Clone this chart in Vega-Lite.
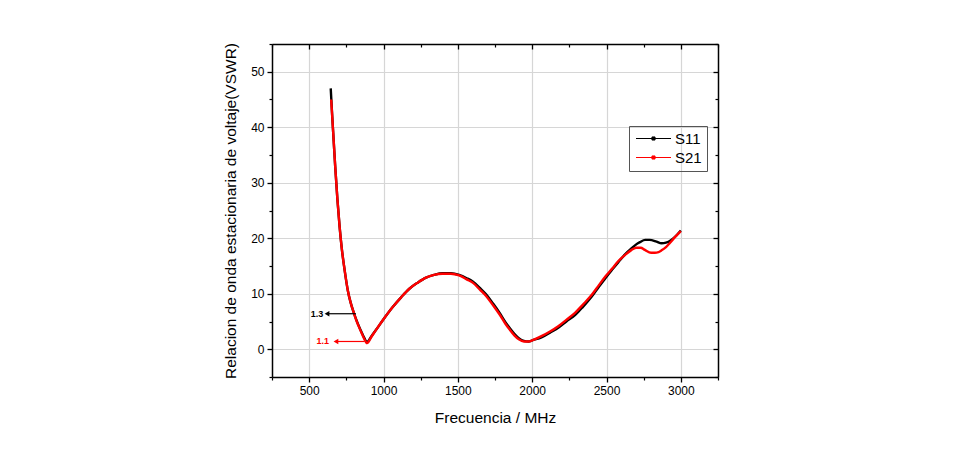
{
  "$schema": "https://vega.github.io/schema/vega-lite/v6.json",
  "width": 446,
  "height": 333,
  "autosize": {"type": "none"},
  "padding": {"left": 272, "top": 44, "right": 241, "bottom": 88},
  "background": "white",
  "config": {
    "view": {"stroke": null},
    "font": "Liberation Sans",
    "axis": {"labelFont": "Liberation Sans", "titleFont": "Liberation Sans", "labelColor": "#000", "titleColor": "#000", "domainColor": "#000", "tickColor": "#000", "titleFontWeight": "normal"}
  },
  "datasets": {
    "curves": [
      {"f": 645, "v": 47.0, "s": "S11"}, {"f": 655, "v": 42.0, "s": "S11"}, {"f": 665, "v": 37.5, "s": "S11"}, {"f": 675, "v": 33.0, "s": "S11"}, {"f": 690, "v": 27.0, "s": "S11"}, {"f": 705, "v": 22.0, "s": "S11"}, {"f": 720, "v": 18.0, "s": "S11"}, {"f": 740, "v": 14.0, "s": "S11"}, {"f": 760, "v": 10.6, "s": "S11"}, {"f": 780, "v": 8.3, "s": "S11"}, {"f": 800, "v": 6.6, "s": "S11"}, {"f": 820, "v": 5.1, "s": "S11"}, {"f": 845, "v": 3.5, "s": "S11"}, {"f": 870, "v": 2.1, "s": "S11"}, {"f": 889, "v": 1.3, "s": "S11"}, {"f": 920, "v": 2.4, "s": "S11"}, {"f": 950, "v": 3.5, "s": "S11"}, {"f": 1000, "v": 5.4, "s": "S11"}, {"f": 1062, "v": 7.6, "s": "S11"}, {"f": 1120, "v": 9.4, "s": "S11"}, {"f": 1174, "v": 10.9, "s": "S11"}, {"f": 1230, "v": 12.0, "s": "S11"}, {"f": 1286, "v": 12.9, "s": "S11"}, {"f": 1340, "v": 13.4, "s": "S11"}, {"f": 1397, "v": 13.7, "s": "S11"}, {"f": 1453, "v": 13.7, "s": "S11"}, {"f": 1509, "v": 13.4, "s": "S11"}, {"f": 1560, "v": 12.8, "s": "S11"}, {"f": 1600, "v": 12.2, "s": "S11"}, {"f": 1650, "v": 11.0, "s": "S11"}, {"f": 1690, "v": 9.9, "s": "S11"}, {"f": 1735, "v": 8.3, "s": "S11"}, {"f": 1780, "v": 6.6, "s": "S11"}, {"f": 1820, "v": 4.9, "s": "S11"}, {"f": 1850, "v": 3.8, "s": "S11"}, {"f": 1880, "v": 2.8, "s": "S11"}, {"f": 1910, "v": 2.0, "s": "S11"}, {"f": 1944, "v": 1.5, "s": "S11"}, {"f": 1977, "v": 1.4, "s": "S11"}, {"f": 2000, "v": 1.6, "s": "S11"}, {"f": 2066, "v": 2.2, "s": "S11"}, {"f": 2120, "v": 3.0, "s": "S11"}, {"f": 2178, "v": 3.9, "s": "S11"}, {"f": 2230, "v": 5.0, "s": "S11"}, {"f": 2290, "v": 6.2, "s": "S11"}, {"f": 2340, "v": 7.6, "s": "S11"}, {"f": 2401, "v": 9.5, "s": "S11"}, {"f": 2450, "v": 11.3, "s": "S11"}, {"f": 2495, "v": 12.9, "s": "S11"}, {"f": 2540, "v": 14.4, "s": "S11"}, {"f": 2580, "v": 15.7, "s": "S11"}, {"f": 2625, "v": 17.1, "s": "S11"}, {"f": 2669, "v": 18.2, "s": "S11"}, {"f": 2700, "v": 18.9, "s": "S11"}, {"f": 2725, "v": 19.3, "s": "S11"}, {"f": 2760, "v": 19.7, "s": "S11"}, {"f": 2790, "v": 19.7, "s": "S11"}, {"f": 2836, "v": 19.4, "s": "S11"}, {"f": 2870, "v": 19.1, "s": "S11"}, {"f": 2900, "v": 19.2, "s": "S11"}, {"f": 2936, "v": 19.7, "s": "S11"}, {"f": 2970, "v": 20.5, "s": "S11"}, {"f": 3000, "v": 21.4, "s": "S11"},
      {"f": 648, "v": 45.0, "s": "S21"}, {"f": 655, "v": 42.0, "s": "S21"}, {"f": 665, "v": 37.5, "s": "S21"}, {"f": 675, "v": 33.0, "s": "S21"}, {"f": 690, "v": 27.0, "s": "S21"}, {"f": 705, "v": 22.0, "s": "S21"}, {"f": 720, "v": 18.0, "s": "S21"}, {"f": 740, "v": 14.0, "s": "S21"}, {"f": 760, "v": 10.6, "s": "S21"}, {"f": 780, "v": 8.3, "s": "S21"}, {"f": 800, "v": 6.6, "s": "S21"}, {"f": 820, "v": 5.0, "s": "S21"}, {"f": 845, "v": 3.4, "s": "S21"}, {"f": 870, "v": 1.9, "s": "S21"}, {"f": 889, "v": 1.1, "s": "S21"}, {"f": 920, "v": 2.3, "s": "S21"}, {"f": 950, "v": 3.5, "s": "S21"}, {"f": 1000, "v": 5.4, "s": "S21"}, {"f": 1062, "v": 7.6, "s": "S21"}, {"f": 1120, "v": 9.4, "s": "S21"}, {"f": 1174, "v": 10.9, "s": "S21"}, {"f": 1230, "v": 12.0, "s": "S21"}, {"f": 1286, "v": 12.9, "s": "S21"}, {"f": 1340, "v": 13.4, "s": "S21"}, {"f": 1397, "v": 13.6, "s": "S21"}, {"f": 1453, "v": 13.6, "s": "S21"}, {"f": 1509, "v": 13.3, "s": "S21"}, {"f": 1560, "v": 12.6, "s": "S21"}, {"f": 1600, "v": 12.0, "s": "S21"}, {"f": 1650, "v": 10.7, "s": "S21"}, {"f": 1690, "v": 9.6, "s": "S21"}, {"f": 1735, "v": 8.0, "s": "S21"}, {"f": 1780, "v": 6.3, "s": "S21"}, {"f": 1820, "v": 4.6, "s": "S21"}, {"f": 1850, "v": 3.5, "s": "S21"}, {"f": 1880, "v": 2.5, "s": "S21"}, {"f": 1910, "v": 1.8, "s": "S21"}, {"f": 1944, "v": 1.4, "s": "S21"}, {"f": 1977, "v": 1.4, "s": "S21"}, {"f": 2000, "v": 1.6, "s": "S21"}, {"f": 2066, "v": 2.4, "s": "S21"}, {"f": 2120, "v": 3.2, "s": "S21"}, {"f": 2178, "v": 4.2, "s": "S21"}, {"f": 2230, "v": 5.3, "s": "S21"}, {"f": 2290, "v": 6.6, "s": "S21"}, {"f": 2340, "v": 8.0, "s": "S21"}, {"f": 2401, "v": 9.8, "s": "S21"}, {"f": 2450, "v": 11.6, "s": "S21"}, {"f": 2495, "v": 13.2, "s": "S21"}, {"f": 2540, "v": 14.6, "s": "S21"}, {"f": 2580, "v": 15.9, "s": "S21"}, {"f": 2625, "v": 17.0, "s": "S21"}, {"f": 2669, "v": 17.9, "s": "S21"}, {"f": 2702, "v": 18.3, "s": "S21"}, {"f": 2730, "v": 18.3, "s": "S21"}, {"f": 2758, "v": 17.9, "s": "S21"}, {"f": 2800, "v": 17.4, "s": "S21"}, {"f": 2825, "v": 17.4, "s": "S21"}, {"f": 2850, "v": 17.5, "s": "S21"}, {"f": 2869, "v": 17.8, "s": "S21"}, {"f": 2900, "v": 18.4, "s": "S21"}, {"f": 2925, "v": 19.1, "s": "S21"}, {"f": 2960, "v": 20.2, "s": "S21"}, {"f": 3000, "v": 21.3, "s": "S21"}
    ],
    "ann": [
      {"s": "S11", "label": "1.3", "tip": 620, "end": 814, "y": 6.4, "tx": 552},
      {"s": "S21", "label": "1.1", "tip": 680, "end": 872, "y": 1.4, "tx": 592}
    ]
  },
  "resolve": {"axis": {"x": "independent", "y": "independent"}},
  "layer": [
    {
      "data": {"name": "curves"},
      "mark": {"type": "line", "strokeWidth": 2.4, "interpolate": "monotone"},
      "encoding": {
        "x": {"field": "f", "type": "quantitative", "scale": {"domain": [250, 3250], "nice": false, "zero": false},
          "axis": {"values": [500, 1000, 1500, 2000, 2500, 3000], "format": "d", "title": "Frecuencia / MHz", "titleFontSize": 15.5, "titlePadding": 14, "labelFontSize": 12, "labelPadding": 3, "tickSize": 5, "tickWidth": 1.3, "domainWidth": 1.5, "grid": true, "gridColor": "#d6d6d6", "gridWidth": 1.2, "labelFlush": false}},
        "y": {"field": "v", "type": "quantitative", "scale": {"domain": [-5, 55], "nice": false, "zero": false},
          "axis": {"values": [0, 10, 20, 30, 40, 50], "title": "Relacion de onda estacionaria de voltaje(VSWR)", "titleFontSize": 15.5, "titlePadding": 12, "labelFontSize": 12, "labelPadding": 3, "tickSize": 5, "tickWidth": 1.3, "domainWidth": 1.5, "grid": true, "gridColor": "#d6d6d6", "gridWidth": 1.2, "labelFlush": false}},
        "color": {"field": "s", "type": "nominal", "scale": {"domain": ["S11", "S21"], "range": ["#000000", "#ff0000"]},
          "legend": {"title": null, "orient": "none", "legendX": 357, "legendY": 82, "labelFontSize": 15, "labelFont": "Liberation Sans", "labelColor": "#000", "symbolType": "M-2.5,0H2.5M-0.22,-0.22H0.22V0.22H-0.22Z", "symbolSize": 196, "symbolOffset": 12, "symbolStrokeWidth": 1, "strokeColor": "#555", "padding": 5, "rowPadding": 3, "labelOffset": 14}}
      }
    },
    {
      "data": {"name": "curves"},
      "mark": {"type": "point", "opacity": 0},
      "encoding": {
        "x": {"field": "f", "type": "quantitative", "axis": {"values": [250, 750, 1250, 1750, 2250, 2750, 3250], "labels": false, "title": null, "grid": false, "domain": false, "tickSize": 3, "tickWidth": 1.2, "orient": "bottom"}},
        "y": {"field": "v", "type": "quantitative", "axis": {"values": [-5, 5, 15, 25, 35, 45, 55], "labels": false, "title": null, "grid": false, "domain": false, "tickSize": 3, "tickWidth": 1.2, "orient": "left"}}
      }
    },
    {
      "data": {"name": "curves"},
      "mark": {"type": "point", "opacity": 0},
      "encoding": {
        "x": {"field": "f", "type": "quantitative", "axis": {"values": [500, 1000, 1500, 2000, 2500, 3000], "labels": false, "title": null, "grid": false, "domainWidth": 1.5, "tickSize": -5, "tickWidth": 1.3, "orient": "top"}},
        "y": {"field": "v", "type": "quantitative", "axis": {"values": [0, 10, 20, 30, 40, 50], "labels": false, "title": null, "grid": false, "domainWidth": 1.5, "tickSize": -5, "tickWidth": 1.3, "orient": "right"}}
      }
    },
    {
      "data": {"name": "curves"},
      "mark": {"type": "point", "opacity": 0},
      "encoding": {
        "x": {"field": "f", "type": "quantitative", "axis": {"values": [250, 750, 1250, 1750, 2250, 2750, 3250], "labels": false, "title": null, "grid": false, "domain": false, "tickSize": -3, "tickWidth": 1.2, "orient": "top"}},
        "y": {"field": "v", "type": "quantitative", "axis": {"values": [-5, 5, 15, 25, 35, 45, 55], "labels": false, "title": null, "grid": false, "domain": false, "tickSize": -3, "tickWidth": 1.2, "orient": "right"}}
      }
    },
    {
      "data": {"name": "ann"},
      "mark": {"type": "rule", "strokeWidth": 1.2},
      "encoding": {
        "x": {"field": "tip", "type": "quantitative", "axis": null},
        "x2": {"field": "end"},
        "y": {"field": "y", "type": "quantitative", "axis": null},
        "color": {"field": "s", "type": "nominal", "legend": null}
      }
    },
    {
      "data": {"name": "ann"},
      "mark": {"type": "point", "shape": "triangle-left", "filled": true, "size": 30, "opacity": 1},
      "encoding": {
        "x": {"field": "tip", "type": "quantitative", "axis": null},
        "y": {"field": "y", "type": "quantitative", "axis": null},
        "color": {"field": "s", "type": "nominal", "legend": null}
      }
    },
    {
      "data": {"name": "ann"},
      "mark": {"type": "text", "fontSize": 9, "fontWeight": "bold", "font": "Liberation Sans"},
      "encoding": {
        "x": {"field": "tx", "type": "quantitative", "axis": null},
        "y": {"field": "y", "type": "quantitative", "axis": null},
        "text": {"field": "label"},
        "color": {"field": "s", "type": "nominal", "legend": null}
      }
    }
  ]
}
